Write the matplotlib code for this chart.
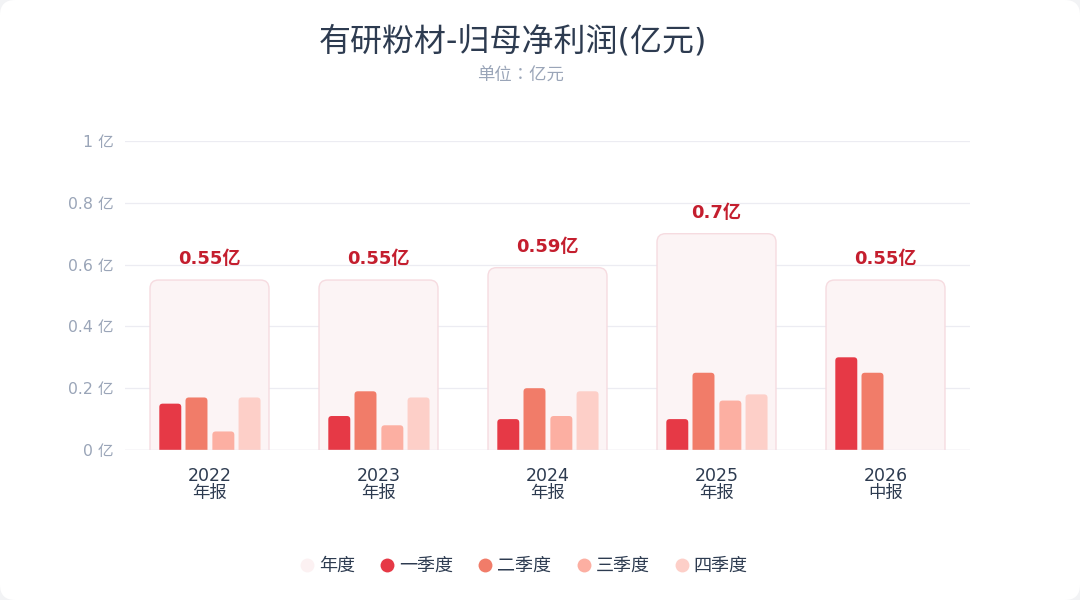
import matplotlib
matplotlib.use("Agg")
import matplotlib.pyplot as plt
from matplotlib.patches import FancyBboxPatch
from matplotlib.lines import Line2D

plt.rcParams['font.family'] = ['DejaVu Sans', 'Noto Sans CJK SC']

# ---- data ----
categories = ["2022\n年报", "2023\n年报", "2024\n年报", "2025\n年报", "2026\n中报"]
annual = [0.55, 0.55, 0.59, 0.70, 0.55]
annual_labels = ["0.55亿", "0.55亿", "0.59亿", "0.7亿", "0.55亿"]
q1 = [0.15, 0.11, 0.10, 0.10, 0.30]
q2 = [0.17, 0.19, 0.20, 0.25, 0.25]
q3 = [0.06, 0.08, 0.11, 0.16, None]
q4 = [0.17, 0.17, 0.19, 0.18, None]
series_names = ["年度", "一季度", "二季度", "三季度", "四季度"]
y_ticks = [0, 0.2, 0.4, 0.6, 0.8, 1.0]
y_tick_labels = ["0 亿", "0.2 亿", "0.4 亿", "0.6 亿", "0.8 亿", "1 亿"]
title = "有研粉材-归母净利润(亿元)"
subtitle = "单位：亿元"

# ---- style ----
q_colors = ["#e63946", "#f17c69", "#fcafa2", "#fdcfc8"]
box_face = "#fcf4f5"
box_edge = "#f6dbe0"
label_color = "#c41e2e"
text_dark = "#2d3b50"
text_gray = "#9aa5b8"

W, H = 1080, 600
fig = plt.figure(figsize=(W / 100, H / 100), dpi=100)
fig.patch.set_facecolor("#f2f3f5")
card = FancyBboxPatch((0, 0), 1, 1, boxstyle="round,pad=0,rounding_size=0.014",
                      transform=fig.transFigure, facecolor="white", edgecolor="none",
                      mutation_aspect=W / H, zorder=-10)
fig.patches.append(card)

ax_l, ax_r = 125, 970
ax_b, ax_t = 450, 141
ax = fig.add_axes([ax_l / W, 1 - ax_b / H, (ax_r - ax_l) / W, (ax_b - ax_t) / H])
ax.set_zorder(1)
ax.set_facecolor("none")
ax.set_xlim(-0.5, len(categories) - 0.5)
ax.set_ylim(0, 1.0)

px_x = (ax_r - ax_l) / len(categories)   # px per x unit
px_y = (ax_b - ax_t) / 1.0               # px per y unit
aspect = px_x / px_y

for s in ax.spines.values():
    s.set_visible(False)
ax.set_yticks(y_ticks)
ax.set_yticklabels(y_tick_labels, color=text_gray, fontsize=11.3)
ax.set_xticks(range(len(categories)))
ax.set_xticklabels(categories, color=text_dark, fontsize=12.5, linespacing=0.95)
ax.tick_params(axis="both", length=0)
ax.tick_params(axis="y", pad=8)
ax.tick_params(axis="x", pad=12)
ax.grid(axis="y", color="#ececf2", linewidth=0.9)
ax.set_axisbelow(True)

box_w = 0.704
bar_w = 0.13
offsets = [-0.232, -0.077, 0.082, 0.237]
ext = 0.05  # extend below baseline so only top corners show rounded (clipped by axes)

for i, a in enumerate(annual):
    box = FancyBboxPatch((i - box_w / 2, -ext), box_w, a + ext,
                         boxstyle="round,pad=0,rounding_size=0.05",
                         mutation_aspect=aspect,
                         facecolor=box_face, edgecolor=box_edge, linewidth=1.0, zorder=2)
    ax.add_patch(box)
    ax.annotate(annual_labels[i], (i, a), xytext=(0, 15), textcoords="offset points",
                ha="center", va="center", color=label_color, fontsize=13,
                fontweight="bold", zorder=5)
    for k, series in enumerate([q1, q2, q3, q4]):
        v = series[i]
        if v is None:
            continue
        bx = i + offsets[k] - bar_w / 2
        bar = FancyBboxPatch((bx, -ext), bar_w, v + ext,
                             boxstyle="round,pad=0,rounding_size=0.02",
                             mutation_aspect=aspect,
                             facecolor=q_colors[k], edgecolor="none", zorder=3)
        ax.add_patch(bar)

ax.axhline(0, color="#ebe4ec", linewidth=1.0, zorder=4)

fig.text(0.475, 1 - 42 / H, title, ha="center", va="center", fontsize=23, color=text_dark)
fig.text(0.482, 1 - 76 / H, subtitle, ha="center", va="center", fontsize=12.5,
         color=text_gray, family=['Noto Sans CJK TC', 'DejaVu Sans'])

handles = [Line2D([], [], marker="o", linestyle="none", markersize=10,
                  markerfacecolor=c, markeredgecolor="none")
           for c in ["#fcf1f2"] + q_colors]
fig.legend(handles, series_names, loc="center", bbox_to_anchor=(0.482, 1 - 566 / H),
           ncol=5, frameon=False, fontsize=13, handletextpad=-0.1, columnspacing=1.05,
           handlelength=1.5, labelcolor=text_dark)

fig.savefig("out.png", dpi=100, facecolor=fig.get_facecolor())
